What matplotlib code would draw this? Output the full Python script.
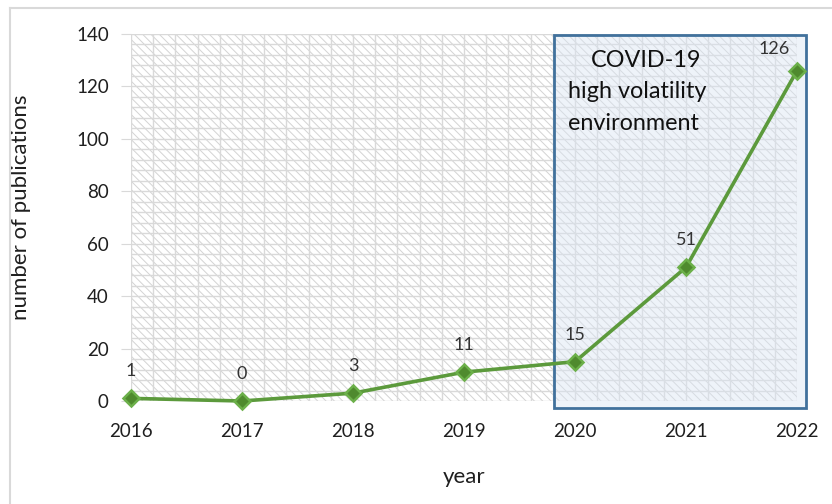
import matplotlib
matplotlib.use("Agg")
import matplotlib.pyplot as plt
from matplotlib.patches import Rectangle
from matplotlib.ticker import MultipleLocator
import numpy as np

years = [2016, 2017, 2018, 2019, 2020, 2021, 2022]
publications = [1, 0, 3, 11, 15, 51, 126]
y_ticks = [0, 20, 40, 60, 80, 100, 120, 140]
covid_start, covid_end = 2020, 2022
box_title = "COVID-19"
box_text = "high volatility\nenvironment"

plt.rcParams['font.family'] = ['Lato', 'DejaVu Sans']
plt.rcParams['hatch.linewidth'] = 0.7
plt.rcParams['hatch.color'] = '#d3d3d3'

fig = plt.figure(figsize=(8.32, 5.04), dpi=100)
fig.patch.set_facecolor('white')
# outer chart frame (left/top visible)
fig.add_artist(plt.Line2D([10/832, 10/832], [0, 1 - 8/504], color='#d9d9d9', lw=1.5))
fig.add_artist(plt.Line2D([10/832, 1], [1 - 8/504, 1 - 8/504], color='#d9d9d9', lw=1.5))

ax = fig.add_axes([131/832, 1 - 401/504, (797 - 131)/832, (401 - 34)/504])
ax.set_xlim(years[0], years[-1])
ax.set_ylim(y_ticks[0], y_ticks[-1])
for s in ax.spines.values():
    s.set_visible(False)

# hatched plot area background
ax.add_patch(Rectangle((0, 0), 1, 1, transform=ax.transAxes, facecolor='white',
                       edgecolor='#d3d3d3', hatch='\\\\\\\\', lw=0, zorder=0))

ax.set_xticks(years)
ax.set_yticks(y_ticks)
ax.xaxis.set_minor_locator(MultipleLocator(0.2))
ax.yaxis.set_minor_locator(MultipleLocator(4))
ax.grid(which='both', color='#d9d9d9', lw=1.0, zorder=1)
ax.set_axisbelow(True)
ax.tick_params(axis='y', which='major', length=7, color='#d9d9d9', pad=9,
               labelsize=13.5, labelcolor='#1f1f1f')
ax.tick_params(axis='x', which='major', length=0, pad=16, labelsize=13.5, labelcolor='#1f1f1f')
ax.tick_params(which='minor', length=0)

# COVID box
bx0, bx1 = covid_start - 0.19, covid_end + 0.08
ax.add_patch(Rectangle((bx0, -2.7), bx1 - bx0, 142.4,
                       facecolor='#dbe5f3', alpha=0.45, edgecolor='none', zorder=2, clip_on=False))
ax.add_patch(Rectangle((bx0, -2.7), bx1 - bx0, 142.4,
                       facecolor='none', edgecolor='#41719c', lw=2, zorder=5, clip_on=False))

ax.plot(years, publications, color='#5c9a3c', lw=2.6, marker='D', markersize=8.5,
        markerfacecolor='#4f8a2e', markeredgecolor='#6cb04a', markeredgewidth=1.8,
        zorder=6, clip_on=False)

for i, (x, y) in enumerate(zip(years, publications)):
    dx, dy = (0, 27) if i < len(years) - 1 else (-23, 22)
    ax.annotate(str(y), (x, y), xytext=(dx * 0.72, dy * 0.72), textcoords='offset points',
                ha='center', va='center', fontsize=13, color='#333333', zorder=7)

ax.text(covid_start + 1.14, 129.8, box_title, ha='right', va='center', fontsize=16.8,
        color='#111111', zorder=7)
ax.text(covid_start - 0.06, 112.0, box_text, ha='left', va='center', fontsize=16.8,
        color='#111111', linespacing=1.62, zorder=7)

ax.set_xlabel('year', fontsize=16, color='#1f1f1f', labelpad=19)
ax.set_ylabel('number of publications', fontsize=16, color='#1f1f1f')
ax.yaxis.set_label_coords(-0.15, 0.527)

fig.savefig('out.png', dpi=100, facecolor='white')
